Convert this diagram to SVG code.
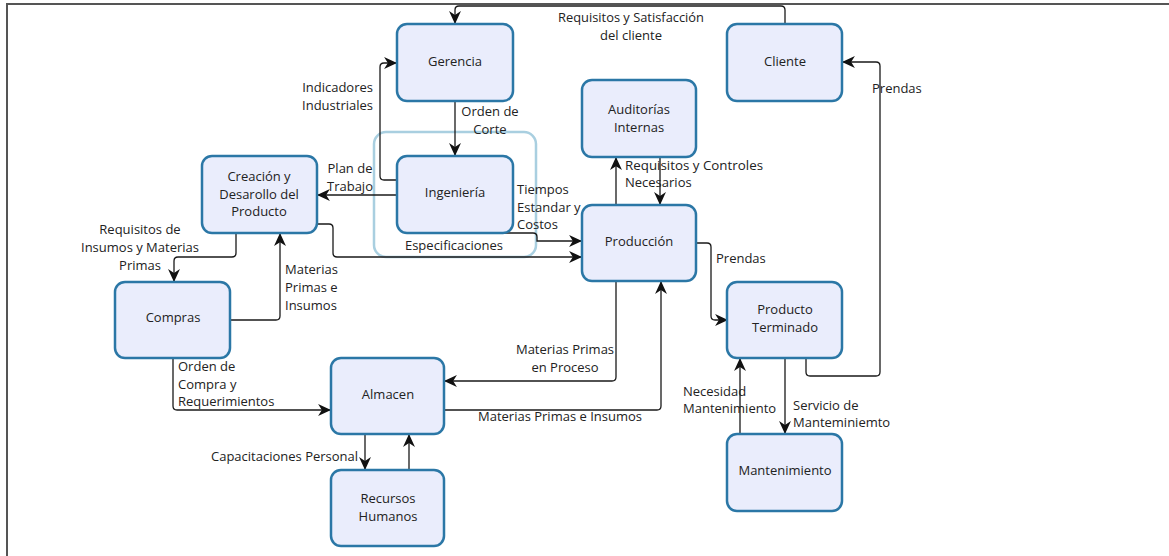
<svg xmlns="http://www.w3.org/2000/svg" width="1169" height="556" viewBox="0 0 1169 556">
<defs>
<marker id="ah" viewBox="0 0 12 12" refX="11" refY="6" markerWidth="13" markerHeight="13" markerUnits="userSpaceOnUse" orient="auto">
<path d="M0,0.5 L12,6 L0,11.5 L3.5,6 z" fill="#111"/>
</marker>
<style>
.n rect{fill:#eaedfc;stroke:#2b77a6;stroke-width:2.5}
.n text{font-family:"Open Sans","Noto Sans",sans-serif;font-size:13px;fill:#222;text-anchor:middle}
.c path{fill:none;stroke:#1a1a1a;stroke-width:1.3}
.c .a{marker-end:url(#ah)}
.l text{font-family:"Open Sans","Noto Sans",sans-serif;font-size:13px;fill:#222}
</style>
</defs>
<rect width="1169" height="556" fill="#fff"/>
<path d="M7,556 V4 H1169" fill="none" stroke="#555" stroke-width="2"/>
<rect id="grupo" x="374" y="132" width="162" height="125" rx="12" fill="none" stroke="#a9cfe0" stroke-width="2.5"/>
<g class="c" id="connectors">
<path class="a" d="M785,24 V10 Q785,6 781,6 H459 Q455,6 455,10 V23"/>
<path class="a" d="M397,180 H384 Q380,180 380,176 V67 Q380,63 384,63 H396"/>
<path class="a" d="M455,101 V155"/>
<path class="a" d="M397,195 H318"/>
<path class="a" d="M498,233 H533 Q537,233 537,237 V241 H581"/>
<path class="a" d="M317,224 H329 Q333,224 333,228 V253 Q333,257 337,257 H581"/>
<path class="a" d="M236,233 V253 Q236,257 232,257 H178 Q174,257 174,261 V281"/>
<path class="a" d="M230,320 H276 Q280,320 280,316 V234"/>
<path class="a" d="M173,358 V406 Q173,410 177,410 H330"/>
<path class="a" d="M616,281 V377 Q616,381 612,381 H445"/>
<path class="a" d="M444,410 H657 Q661,410 661,406 V282"/>
<path class="a" d="M365,434 V469"/>
<path class="a" d="M409,470 V435"/>
<path class="a" d="M616,205 V158"/>
<path class="a" d="M660,157 V204"/>
<path class="a" d="M696,243 H707 Q711,243 711,247 V316 Q711,320 715,320 H727"/>
<path class="a" d="M806,358 V372 Q806,376 810,376 H876 Q880,376 880,372 V66 Q880,62 876,62 H843"/>
<path class="a" d="M740,434 V359"/>
<path class="a" d="M785,358 V433"/>
</g>
<g class="l" id="labels">
<text x="631" y="22" text-anchor="middle" textLength="146" lengthAdjust="spacingAndGlyphs">Requisitos y Satisfacción</text>
<text x="631" y="40" text-anchor="middle">del cliente</text>
<text x="373" y="92" text-anchor="end">Indicadores</text>
<text x="373" y="110" text-anchor="end">Industriales</text>
<text x="490" y="116" text-anchor="middle">Orden de</text>
<text x="490" y="134" text-anchor="middle">Corte</text>
<text x="350" y="173" text-anchor="middle">Plan de</text>
<text x="350" y="191" text-anchor="middle">Trabajo</text>
<text x="517" y="194">Tiempos</text>
<text x="517" y="212">Estandar y</text>
<text x="517" y="229">Costos</text>
<text x="454" y="250" text-anchor="middle">Especificaciones</text>
<text x="140" y="234" text-anchor="middle">Requisitos de</text>
<text x="140" y="252" text-anchor="middle">Insumos y Materias</text>
<text x="140" y="270" text-anchor="middle">Primas</text>
<text x="285" y="274">Materias</text>
<text x="285" y="292">Primas e</text>
<text x="285" y="310">Insumos</text>
<text x="625" y="170" textLength="138" lengthAdjust="spacingAndGlyphs">Requisitos y Controles</text>
<text x="625" y="187">Necesarios</text>
<text x="872" y="93">Prendas</text>
<text x="716" y="263">Prendas</text>
<text x="178" y="371">Orden de</text>
<text x="178" y="389">Compra y</text>
<text x="178" y="406">Requerimientos</text>
<text x="565" y="354" text-anchor="middle">Materias Primas</text>
<text x="565" y="372" text-anchor="middle">en Proceso</text>
<text x="478" y="421">Materias Primas e Insumos</text>
<text x="211" y="461">Capacitaciones Personal</text>
<text x="683" y="396">Necesidad</text>
<text x="683" y="413">Mantenimiento</text>
<text x="793" y="410">Servicio de</text>
<text x="793" y="427">Manteminiemto</text>
</g>
<g class="n" id="gerencia"><rect x="397" y="24" width="116" height="77" rx="10"/><text x="455" y="66">Gerencia</text></g>
<g class="n" id="cliente"><rect x="727" y="24" width="115" height="77" rx="10"/><text x="785" y="66">Cliente</text></g>
<g class="n" id="auditorias"><rect x="582" y="80" width="114" height="77" rx="10"/><text x="639" y="114">Auditorías</text><text x="639" y="132">Internas</text></g>
<g class="n" id="ingenieria"><rect x="397" y="156" width="116" height="77" rx="10"/><text x="455" y="197">Ingeniería</text></g>
<g class="n" id="creacion"><rect x="202" y="156" width="115" height="77" rx="10"/><text x="259" y="181">Creación y</text><text x="259" y="199">Desarollo del</text><text x="259" y="216">Producto</text></g>
<g class="n" id="produccion"><rect x="582" y="205" width="114" height="76" rx="10"/><text x="639" y="246">Producción</text></g>
<g class="n" id="compras"><rect x="115" y="282" width="115" height="76" rx="10"/><text x="173" y="322">Compras</text></g>
<g class="n" id="producto-terminado"><rect x="727" y="282" width="115" height="76" rx="10"/><text x="785" y="314">Producto</text><text x="785" y="332">Terminado</text></g>
<g class="n" id="almacen"><rect x="331" y="358" width="113" height="76" rx="10"/><text x="388" y="399">Almacen</text></g>
<g class="n" id="recursos-humanos"><rect x="331" y="470" width="113" height="76" rx="10"/><text x="388" y="503">Recursos</text><text x="388" y="521">Humanos</text></g>
<g class="n" id="mantenimiento"><rect x="727" y="434" width="115" height="77" rx="10"/><text x="785" y="475">Mantenimiento</text></g>
</svg>
